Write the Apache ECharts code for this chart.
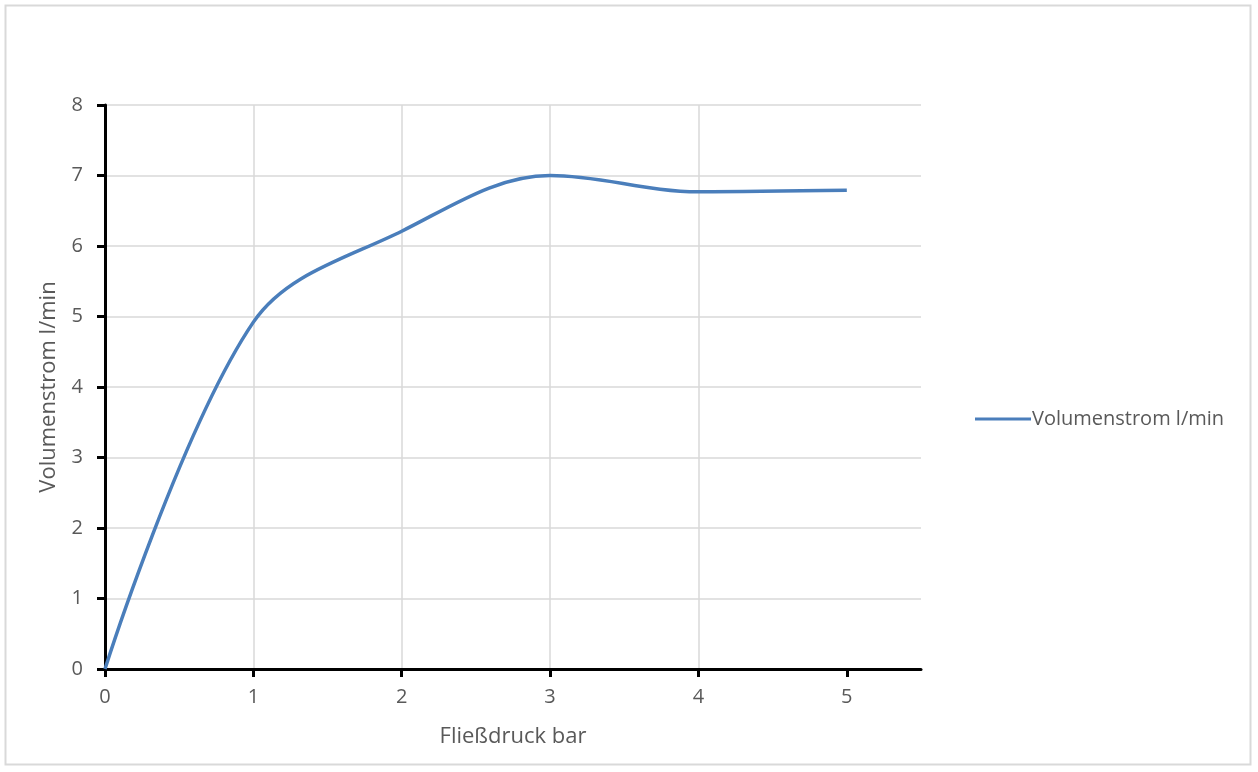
<!DOCTYPE html>
<html>
<head>
<meta charset="utf-8">
<script src="https://cdn.jsdelivr.net/npm/echarts@6/dist/echarts.min.js"></script>
<style>
html,body{margin:0;padding:0;background:#fff;}
#chart{width:1258px;height:772px;}
</style>
</head>
<body>
<div id="chart"></div>
<script>
const pressure = [0, 1, 2, 3, 4, 5];
const flow = [0, 4.92, 6.21, 7.0, 6.77, 6.79];
const xTicks = [0, 1, 2, 3, 4, 5];
const seriesName = 'Volumenstrom l/min';
const xName = 'Fließdruck bar';
const yName = 'Volumenstrom l/min';

const chart = echarts.init(document.getElementById('chart'), null, {renderer: 'canvas'});
const font = '"Open Sans", "Noto Sans", sans-serif';
const labelStyle = {color: '#595959', fontSize: 20, fontFamily: font};
chart.setOption({
  animation: false,
  backgroundColor: '#fff',
  graphic: [{
    type: 'rect',
    shape: {x: 5.5, y: 5.5, width: 1245, height: 759},
    style: {fill: 'none', stroke: '#d9d9d9', lineWidth: 2},
    silent: true
  }],
  grid: {left: 105, top: 105, right: 337, bottom: 103, containLabel: false},
  legend: {
    orient: 'vertical',
    left: 970, top: 404,
    itemWidth: 56, itemHeight: 16, itemGap: 6,
    icon: 'path://M0,6.5 L56,6.5 L56,9.5 L0,9.5 Z',
    textStyle: {color: '#595959', fontSize: 20, fontFamily: font, padding: [0,0,0,-4]},
    data: [seriesName]
  },
  xAxis: {
    type: 'value', min: 0, max: 5.5, interval: 1,
    name: xName, nameLocation: 'middle', nameGap: 57,
    nameTextStyle: {color: '#595959', fontSize: 22, fontFamily: font},
    axisLine: {show: true, onZero: false, lineStyle: {color: '#000', width: 3}},
    axisTick: {show: true, length: 8, lineStyle: {color: '#000', width: 3}, customValues: xTicks},
    axisLabel: Object.assign({margin: 18, customValues: xTicks}, labelStyle),
    splitLine: {show: true, showMaxLine: false, lineStyle: {color: '#d9d9d9', width: 1.5}}
  },
  yAxis: {
    type: 'value', min: 0, max: 8, interval: 1,
    name: yName, nameLocation: 'middle', nameGap: 45, nameRotate: 90,
    nameTextStyle: {color: '#595959', fontSize: 22, fontFamily: font},
    axisLine: {show: true, onZero: false, lineStyle: {color: '#000', width: 3}},
    axisTick: {show: true, length: 8, lineStyle: {color: '#000', width: 3}},
    axisLabel: Object.assign({margin: 22}, labelStyle),
    splitLine: {show: true, showMinLine: false, lineStyle: {color: '#d9d9d9', width: 1.5}}
  },
  series: [{
    name: seriesName,
    type: 'line',
    data: pressure.map((p, i) => [p, flow[i]]),
    smooth: 0.35,
    showSymbol: false,
    symbol: 'none',
    lineStyle: {color: '#4a7ebb', width: 3.5},
    itemStyle: {color: '#4a7ebb'},
    z: 5
  }]
});
</script>
</body>
</html>
